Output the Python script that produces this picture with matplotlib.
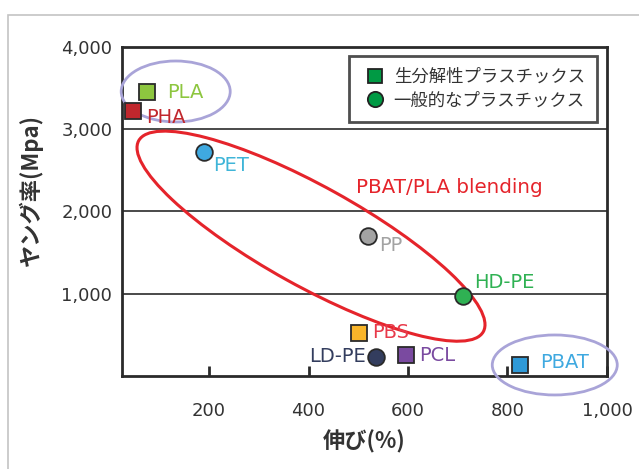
import matplotlib
matplotlib.use('Agg')
import matplotlib.pyplot as plt
from matplotlib.patches import Ellipse, Rectangle
from matplotlib.lines import Line2D
from matplotlib.transforms import ScaledTranslation

plt.rcParams['font.family'] = ['DejaVu Sans', 'Noto Sans CJK JP']

# 材料ごとの伸び(%)とヤング率(MPa)
names = ['PLA', 'PHA', 'PET', 'PP', 'HD-PE', 'PBS', 'LD-PE', 'PCL', 'PBAT']
elong = [75, 47, 190, 519, 710, 501, 536, 596, 825]
young = [3450, 3220, 2720, 1700, 973, 523, 231, 255, 134]
kind = ['s', 's', 'o', 'o', 'o', 's', 'o', 's', 's']   # s: 生分解性, o: 一般的
face = ['#8dc63f', '#c1272d', '#3fa9e0', '#a3a3a3', '#2fb153',
        '#f9b52a', '#333d5e', '#7a4aa0', '#2f9ad8']
txtcol = ['#8dc63f', '#c1272d', '#3fb5d8', '#a3a3a3', '#2fb153',
          '#e8394a', '#333d5e', '#7a4aa0', '#3fa9e0']
# ラベルの位置 (px), 揃え
offs = [(20, 0), (13, -6), (9, -13), (11, -9), (11, 13),
        (13, 0), (-10, 0), (13, 0), (20, 2)]
align = ['left'] * 6 + ['right'] + ['left'] * 2

xticks = [200, 400, 600, 800, 1000]
xticklabels = ['200', '400', '600', '800', '1,000']
yticks = [1000, 2000, 3000, 4000]
yticklabels = ['1,000', '2,000', '3,000', '4,000']

fig = plt.figure(figsize=(6.39, 4.69), dpi=100)
ax = fig.add_axes([0.1909, 0.1983, 0.7590, 0.7015])

# 外枠
fig.add_artist(Rectangle((8 / 639, -0.2), 2, 1.2 - 15 / 469, fill=False,
                         edgecolor='#c4c4c4', lw=1.2, transform=fig.transFigure,
                         clip_on=False))

ax.set_xlim(25, 1000)
ax.set_ylim(0, 4000)
for y in yticks[:-1]:
    ax.axhline(y, color='#3a3a3a', lw=1.3, zorder=1)

for i in range(len(names)):
    ax.plot(elong[i], young[i], marker=kind[i], ms=12, mfc=face[i],
            mec='#2a2a2a', mew=1.3, ls='none', zorder=5, clip_on=False)
    ax.annotate(names[i], (elong[i], young[i]), xytext=(offs[i][0] * 0.72, offs[i][1] * 0.72),
                textcoords='offset points', ha=align[i], va='center',
                color=txtcol[i], fontsize=14, zorder=6)

# 楕円 (中心はデータ座標, 大きさはインチ)
def ring(cx, cy, w, h, ang, col, lw):
    tr = fig.dpi_scale_trans + ScaledTranslation(cx, cy, ax.transData)
    e = Ellipse((0, 0), w, h, angle=ang, fill=False, edgecolor=col, lw=lw,
                transform=tr, clip_on=False, zorder=4)
    ax.add_artist(e)

ring(133, 3459, 1.09, 0.61, 0, '#a9a4d8', 2.0)
ring(895, 134, 1.25, 0.60, 0, '#a9a4d8', 2.0)
ring(405, 1700, 3.94, 1.0, -29, '#e5242b', 2.2)

ax.text(496, 2290, 'PBAT/PLA blending', color='#e5242b', fontsize=14.3,
        ha='left', va='center')

ax.set_xticks(xticks)
ax.set_xticklabels(xticklabels)
ax.set_yticks(yticks)
ax.set_yticklabels(yticklabels)
ax.tick_params(axis='x', direction='in', length=7, width=2, color='#2a2a2a',
               pad=19, labelsize=13, labelcolor='#333333')
ax.tick_params(axis='y', length=0, pad=7, labelsize=13, labelcolor='#333333')
for s in ax.spines.values():
    s.set_color('#2a2a2a')
    s.set_linewidth(2)

ax.set_ylabel('ヤング率(Mpa)', fontsize=16, fontweight='bold', color='#333333',
              family=['Noto Sans CJK JP', 'DejaVu Sans'])
ax.yaxis.set_label_coords(-0.163, 0.565)
ax.set_xlabel('伸び(%)', fontsize=16, fontweight='bold', color='#333333',
              family=['Noto Sans CJK JP', 'DejaVu Sans'])
ax.xaxis.set_label_coords(0.5, -0.163)

handles = [Line2D([], [], marker='s', ls='none', mfc='#009a44', mec='#222222', mew=1.3, ms=10),
           Line2D([], [], marker='o', ls='none', mfc='#009a44', mec='#222222', mew=1.3, ms=11)]
leg = ax.legend(handles, ['生分解性プラスチックス', '一般的なプラスチックス'],
                loc='upper right', bbox_to_anchor=(597 / 639, 1 - 56 / 469),
                bbox_transform=fig.transFigure, borderaxespad=0, fancybox=False,
                prop={'family': ['Noto Sans CJK JP', 'DejaVu Sans'], 'size': 12.5},
                handletextpad=0.25, handlelength=1.6, labelspacing=0.3,
                borderpad=0.7, labelcolor='#333333')
leg.get_frame().set_edgecolor('#222222')
leg.get_frame().set_linewidth(2)
leg.set_zorder(7)

fig.savefig('out.png', dpi=100)
